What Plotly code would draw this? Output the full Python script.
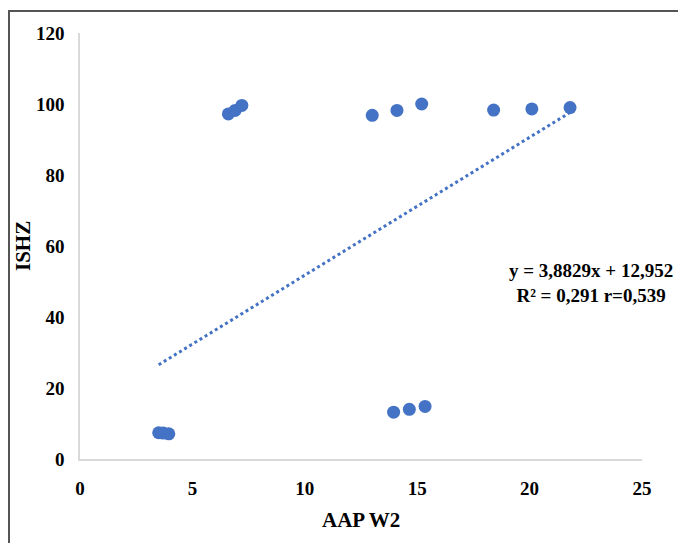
import plotly.graph_objects as go

aap_w2 = [3.5, 3.7, 3.95, 6.6, 6.9, 7.2, 13.0, 14.1, 15.2, 18.4, 20.1, 21.8, 13.95, 14.65, 15.35]
ishz = [7.4, 7.3, 7.1, 97.2, 98.2, 99.6, 96.8, 98.2, 100.0, 98.3, 98.6, 99.0, 13.2, 14.0, 14.8]
slope, intercept = 3.8829, 12.952
trend_x = [3.5, 21.8]
trend_y = [slope * v + intercept for v in trend_x]
x_ticks = [0, 5, 10, 15, 20, 25]
y_ticks = [0, 20, 40, 60, 80, 100, 120]

blue = "#4472C4"
font = "Liberation Serif"

OFF = 8  # page body margin
# plot area in screen pixels
L, R, T, B = 80, 642, 33, 459
W, H = R - L, B - T
FW, FH = 686, 543


def px(x):
    return (x - L) / W


def py(y):
    return (B - y) / H


fig = go.Figure()
fig.add_trace(go.Scatter(x=trend_x, y=trend_y, mode="lines",
                         line=dict(color=blue, width=3, dash="dot"),
                         hoverinfo="skip", showlegend=False))
fig.add_trace(go.Scatter(x=aap_w2, y=ishz, mode="markers",
                         marker=dict(color=blue, size=13, line=dict(width=0)),
                         showlegend=False))

fig.update_layout(
    width=FW, height=FH,
    margin=dict(l=L - OFF, r=FW - (R - OFF), t=T - OFF, b=FH - (B - OFF), autoexpand=False),
    paper_bgcolor="white", plot_bgcolor="white",
    font=dict(family=font, color="black"),
    xaxis=dict(range=[0, 25], tickvals=x_ticks, showgrid=False, zeroline=False,
               showline=True, linecolor="#D9D9D9", linewidth=1.5, ticks="",
               automargin=False, ticklabelstandoff=11,
               tickfont=dict(family=font, size=19, color="black", weight="bold")),
    yaxis=dict(range=[0, 120], tickvals=y_ticks, showgrid=False, zeroline=False,
               showline=True, linecolor="#D9D9D9", linewidth=1.5, ticks="",
               automargin=False, ticklabelstandoff=10,
               tickfont=dict(family=font, size=19, color="black", weight="bold")),
    annotations=[
        dict(x=px(591), y=py(283), xref="paper", yref="paper",
             xanchor="center", yanchor="middle",
             text="<b>y = 3,8829x + 12,952<br>R² = 0,291 r=0,539</b>",
             showarrow=False, align="center",
             font=dict(family=font, size=19, color="black")),
        dict(x=px(361), y=py(520), xref="paper", yref="paper",
             xanchor="center", yanchor="middle",
             text="<b>AAP W2</b>", showarrow=False,
             font=dict(family=font, size=21, color="black")),
        dict(x=px(23), y=py(246), xref="paper", yref="paper",
             xanchor="center", yanchor="middle",
             text="<b>ISHZ</b>", showarrow=False, textangle=-90,
             font=dict(family=font, size=21, color="black")),
    ],
    shapes=[dict(type="rect", xref="paper", yref="paper",
                 x0=px(9), x1=px(720), y0=py(580), y1=py(11),
                 line=dict(color="#555555", width=2), layer="below")],
)

fig.write_html("out.html")
